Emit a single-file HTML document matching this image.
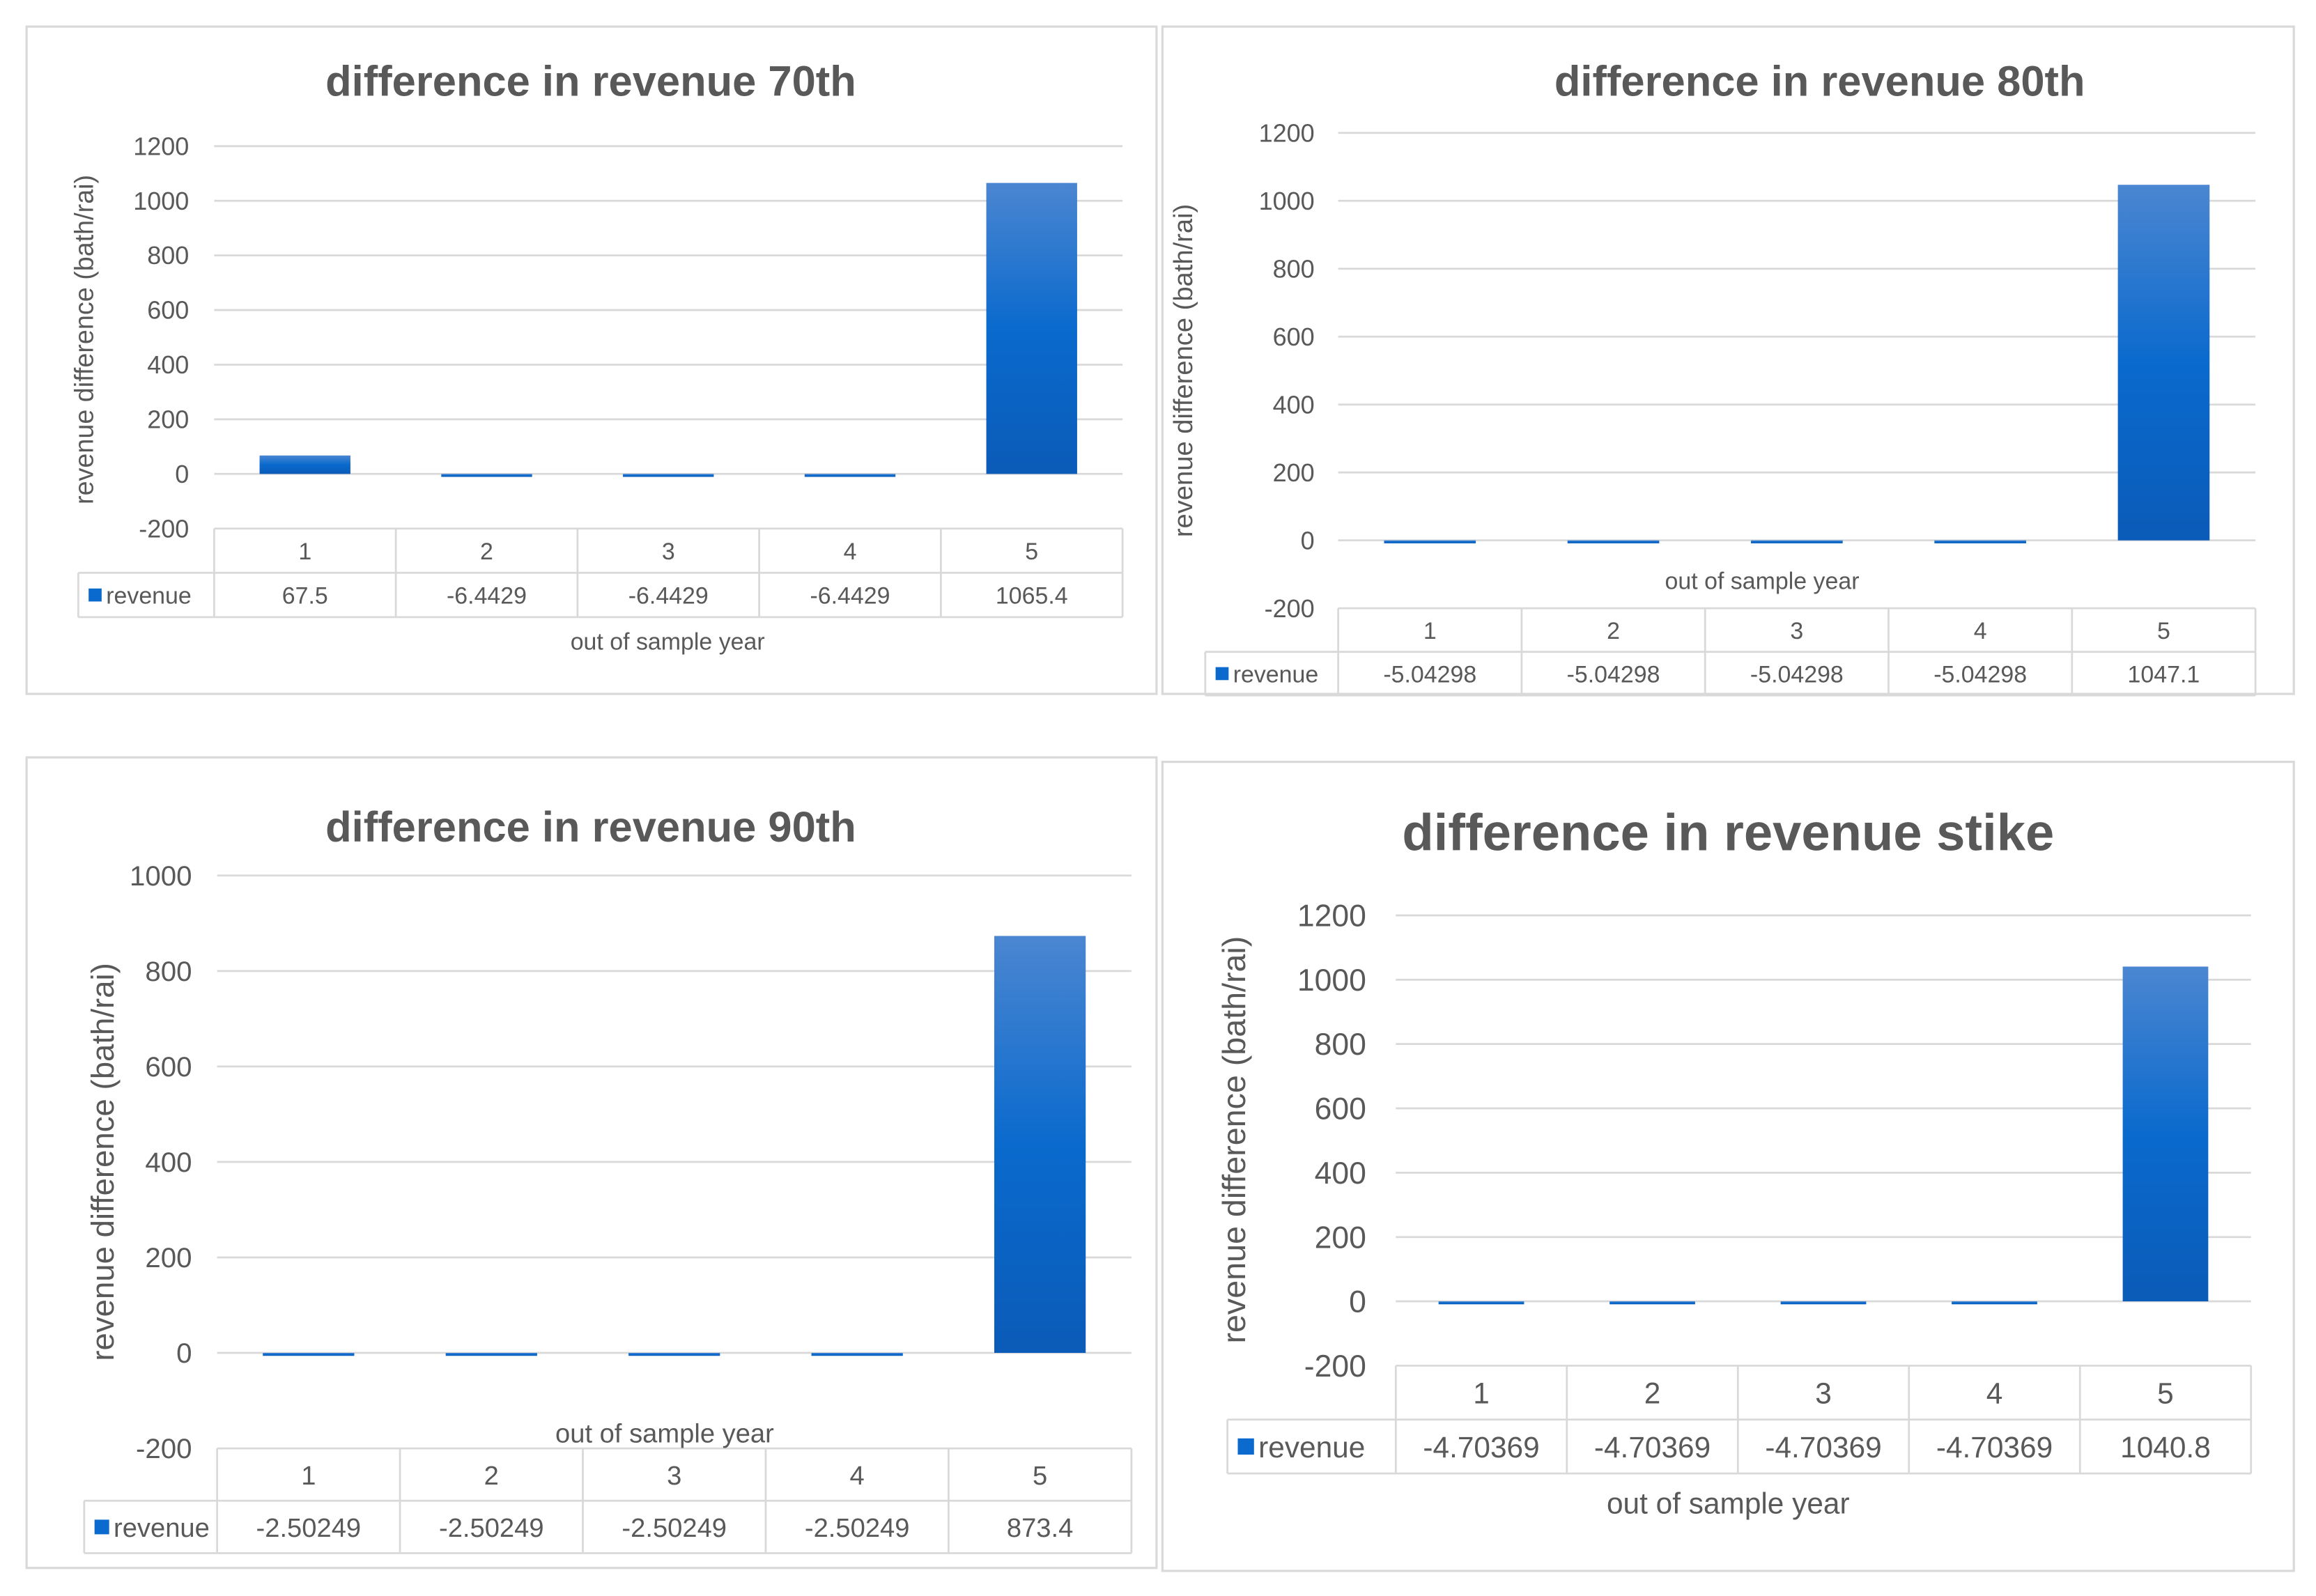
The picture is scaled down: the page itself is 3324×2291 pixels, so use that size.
<!DOCTYPE html>
<html><head><meta charset="utf-8">
<style>
html,body{margin:0;padding:0;background:#fff;}
svg{display:block;}
text{font-family:"Liberation Sans",sans-serif;}
</style></head>
<body>
<svg id="root" width="3324" height="2291" viewBox="0 0 1568 1081" preserveAspectRatio="none" xmlns="http://www.w3.org/2000/svg">
<defs>
<linearGradient id="barGrad" x1="0" y1="0" x2="0" y2="1">
<stop offset="0" stop-color="#4b86d1"/>
<stop offset="0.5" stop-color="#0a6acd"/>
<stop offset="1" stop-color="#0b5bb8"/>
</linearGradient>
</defs>
</svg>
<script>
const categories = ["1","2","3","4","5"];
const values70 = [67.5, -6.4429, -6.4429, -6.4429, 1065.4];
const labels70 = ["67.5","-6.4429","-6.4429","-6.4429","1065.4"];
const values80 = [-5.04298, -5.04298, -5.04298, -5.04298, 1047.1];
const labels80 = ["-5.04298","-5.04298","-5.04298","-5.04298","1047.1"];
const values90 = [-2.50249, -2.50249, -2.50249, -2.50249, 873.4];
const labels90 = ["-2.50249","-2.50249","-2.50249","-2.50249","873.4"];
const valuesStrike = [-4.70369, -4.70369, -4.70369, -4.70369, 1040.8];
const labelsStrike = ["-4.70369","-4.70369","-4.70369","-4.70369","1040.8"];
const ticks1200 = [-200, 0, 200, 400, 600, 800, 1000, 1200];
const ticks1000 = [-200, 0, 200, 400, 600, 800, 1000];
const titles = ["difference in revenue 70th","difference in revenue 80th","difference in revenue 90th","difference in revenue stike"];

const NS = "http://www.w3.org/2000/svg";
const root = document.getElementById('root');
function mk(tag, attrs, parent){
  const e = document.createElementNS(NS, tag);
  for (const k in attrs) e.setAttribute(k, attrs[k]);
  (parent||root).appendChild(e);
  return e;
}

const layouts = [
  {panel:[18,18,765,452], titleX:400, titleY:65, titleSize:29, x0:145, x1:760, yTop:99, yBot:358, legX:53, rowH:30, tickX:128, tickSize:17, tableSize:16, yTitleX:63, yTitleY:230, yTitleSize:17.8, xlabY:440, xlabX:452, values:values70, labels:labels70, ticks:ticks1200, key:'70th'},
  {panel:[787,18,766,452], titleX:1232, titleY:65, titleSize:29, x0:906, x1:1527, yTop:90, yBot:412, legX:816, rowH:29.5, tickX:890, tickSize:17, tableSize:16, yTitleX:807, yTitleY:251, yTitleSize:18, xlabY:399, xlabX:1193, values:values80, labels:labels80, ticks:ticks1200, key:'80th'},
  {panel:[18,513,765,549], titleX:400, titleY:570, titleSize:29, x0:147, x1:766, yTop:593, yBot:981, legX:57, rowH:35.5, tickX:130, tickSize:19, tableSize:18, yTitleX:77, yTitleY:787, yTitleSize:21.5, xlabY:977, xlabX:450, values:values90, labels:labels90, ticks:ticks1000, key:'90th'},
  {panel:[787,516,766,548], titleX:1170, titleY:576, titleSize:35, x0:945, x1:1524, yTop:620, yBot:925, legX:831, rowH:36.5, tickX:925, tickSize:21, tableSize:20, yTitleX:843, yTitleY:772, yTitleSize:22, xlabY:1025, xlabX:1170, values:valuesStrike, labels:labelsStrike, ticks:ticks1200, key:'strike'}
];

layouts.forEach((L, ci) => {
  const g = mk('g', {});
  
  
  const [px,py,pw,ph] = L.panel;
  const panel = mk('rect', {x:px, y:py, width:pw, height:ph, fill:'#fff', stroke:'#d9d9d9', 'stroke-width':1.5}, g);
  
  
  const t = mk('text', {x:L.titleX, y:L.titleY, 'text-anchor':'middle', 'font-size':L.titleSize, 'font-weight':'bold', fill:'#595959'}, g);
  t.textContent = titles[ci];
  
  

  const vmin = L.ticks[0], vmax = L.ticks[L.ticks.length-1];
  const yScale = v => L.yBot - (v - vmin) / (vmax - vmin) * (L.yBot - L.yTop);
  const colW = (L.x1 - L.x0) / categories.length;
  const xScale = i => L.x0 + colW * (i + 0.5);

  L.ticks.forEach(tv => {
    const y = yScale(tv);
    if (tv !== vmin) {
      const gl = mk('line', {x1:L.x0, x2:L.x1, y1:y, y2:y, stroke:'#d9d9d9', 'stroke-width':1.3}, g);
      
      
    }
    const tl = mk('text', {x:L.tickX, y:y + L.tickSize*0.35, 'text-anchor':'end', 'font-size':L.tickSize, fill:'#595959'}, g);
    tl.textContent = String(tv);
    
    
  });

  L.values.forEach((v, i) => {
    const y0 = yScale(0), yv = yScale(v);
    const top = Math.min(y0, yv), h = Math.max(Math.abs(y0 - yv), 2);
    const b = mk('rect', {x:xScale(i) - colW*0.25, y:top, width:colW*0.5, height:h, fill:'url(#barGrad)'}, g);
    
    
  });

  const r0 = L.yBot, r1 = L.yBot + L.rowH, r2 = L.yBot + 2*L.rowH;
  const tbl = mk('g', {stroke:'#d9d9d9', 'stroke-width':1.3, fill:'none'}, g);
  
  
  mk('line', {x1:L.x0, x2:L.x1, y1:r0, y2:r0}, tbl);
  mk('line', {x1:L.legX, x2:L.x1, y1:r1, y2:r1}, tbl);
  mk('line', {x1:L.legX, x2:L.x1, y1:r2, y2:r2}, tbl);
  mk('line', {x1:L.legX, x2:L.legX, y1:r1, y2:r2}, tbl);
  for (let i = 0; i <= categories.length; i++) {
    const x = L.x0 + colW*i;
    mk('line', {x1:x, x2:x, y1:r0, y2:r2}, tbl);
  }
  categories.forEach((c, i) => {
    const ct = mk('text', {x:xScale(i), y:(r0+r1)/2 + L.tableSize*0.37, 'text-anchor':'middle', 'font-size':L.tableSize, fill:'#595959'}, g);
    ct.textContent = c;
    
    
    const vt = mk('text', {x:xScale(i), y:(r1+r2)/2 + L.tableSize*0.37, 'text-anchor':'middle', 'font-size':L.tableSize, fill:'#595959'}, g);
    vt.textContent = L.labels[i];
    
    
  });
  const ks = L.tableSize*0.55;
  const key = mk('rect', {x:L.legX + 7, y:(r1+r2)/2 - ks/2, width:ks, height:ks, fill:'#0a6acd'}, g);
  
  
  const lt = mk('text', {x:L.legX + 10 + ks, y:(r1+r2)/2 + L.tableSize*0.37, 'font-size':L.tableSize, fill:'#595959'}, g);
  lt.textContent = 'revenue';
  
  

  const xl = mk('text', {x:L.xlabX, y:L.xlabY, 'text-anchor':'middle', 'font-size':L.tableSize, fill:'#595959'}, g);
  xl.textContent = 'out of sample year';
  
  

  const yt = mk('text', {x:0, y:0, 'text-anchor':'middle', 'font-size':L.yTitleSize, fill:'#595959', transform:'translate(' + L.yTitleX + ',' + L.yTitleY + ') rotate(-90)'}, g);
  yt.textContent = 'revenue difference (bath/rai)';
  
  
});
</script>
</body></html>
